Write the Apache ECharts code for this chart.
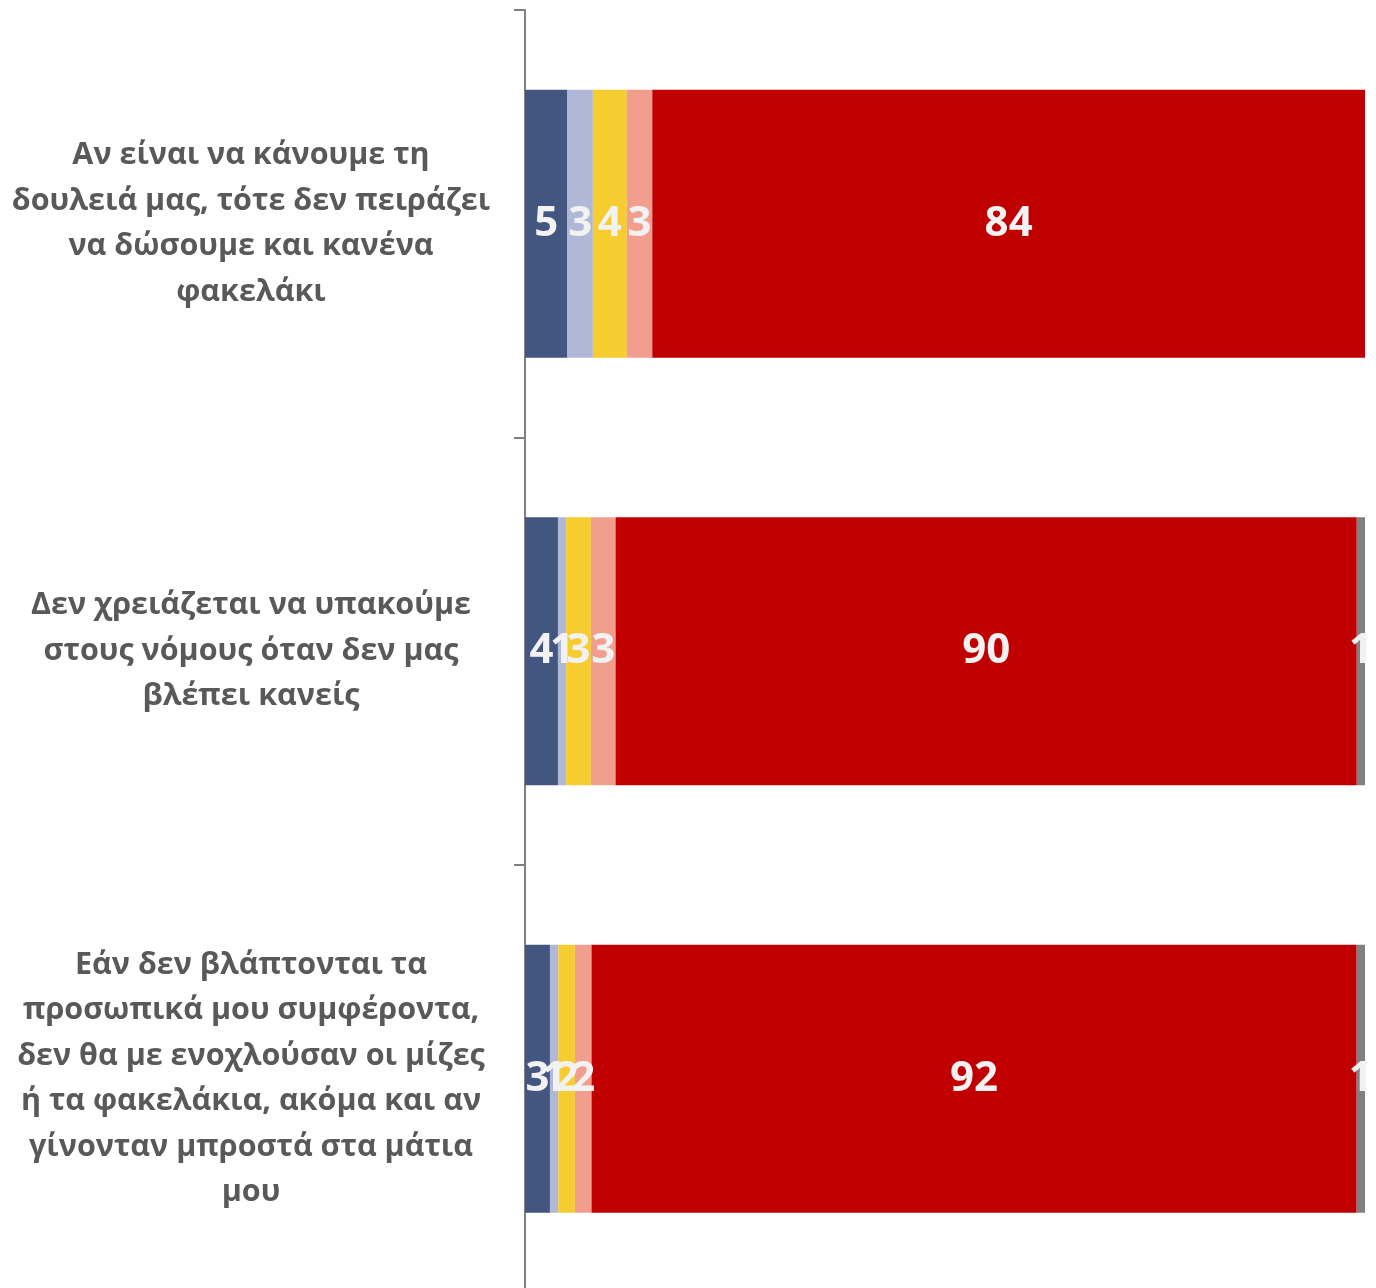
<!DOCTYPE html>
<html><head><meta charset="utf-8">
<script src="https://cdn.jsdelivr.net/npm/echarts@6/dist/echarts.min.js"></script>
<style>html,body{margin:0;padding:0;background:#fff}#c{width:1376px;height:1288px}</style>
</head><body><div id="c"></div>
<script>
const categories = [
  "Αν είναι να κάνουμε τη\nδουλειά μας, τότε δεν πειράζει\nνα δώσουμε και κανένα\nφακελάκι",
  "Δεν χρειάζεται να υπακούμε\nστους νόμους όταν δεν μας\nβλέπει κανείς",
  "Εάν δεν βλάπτονται τα\nπροσωπικά μου συμφέροντα,\nδεν θα με ενοχλούσαν οι μίζες\nή τα φακελάκια, ακόμα και αν\nγίνονταν μπροστά στα μάτια\nμου"
];
const seriesNames = ["Συμφωνώ απόλυτα", "Μάλλον συμφωνώ", "Ούτε συμφωνώ ούτε διαφωνώ", "Μάλλον διαφωνώ", "Διαφωνώ απόλυτα", "ΔΓ/ΔΑ"];
const s1 = [5, 4, 3];
const s2 = [3, 1, 1];
const s3 = [4, 3, 2];
const s4 = [3, 3, 2];
const s5 = [84, 90, 92];
const s6 = [0, 1, 1];
const colors = ["#425680", "#AFB9D7", "#F5CD30", "#F19E8E", "#C00000", "#808080"];

const all = [s1, s2, s3, s4, s5, s6];
const totals = categories.map((_, i) => all.reduce((a, s) => a + s[i], 0));

const chart = echarts.init(document.getElementById('c'), null, {renderer: 'canvas'});
chart.setOption({
  animation: false,
  grid: {left: 525, right: 11, top: 10, height: 1282.5, containLabel: false, outerBoundsMode: 'none'},
  xAxis: {type: 'value', min: 0, max: 100, show: false},
  yAxis: {
    type: 'category', inverse: true, data: categories,
    axisLine: {show: true, lineStyle: {color: '#808080', width: 2}},
    axisTick: {show: true, length: 11, lineStyle: {color: '#808080', width: 2}},
    axisLabel: {
      color: '#595959', fontFamily: 'Open Sans', fontWeight: 'bold', fontSize: 30.5,
      lineHeight: 45.5, align: 'center', margin: 274, padding: [7, 0, 0, 0]
    }
  },
  series: all.map((s, k) => ({
    name: seriesNames[k], type: 'bar', stack: 'total', barWidth: 268,
    itemStyle: {color: colors[k]},
    label: {
      show: true, position: 'inside', color: '#F2F2F2', fontFamily: 'Open Sans',
      fontWeight: 'bold', fontSize: 42, padding: [8, 0, 0, 0],
      formatter: p => (s[p.dataIndex] === 0 ? '' : String(s[p.dataIndex]))
    },
    labelLayout: {hideOverlap: false},
    data: s.map((v, i) => v / totals[i] * 100)
  }))
});
</script></body></html>
